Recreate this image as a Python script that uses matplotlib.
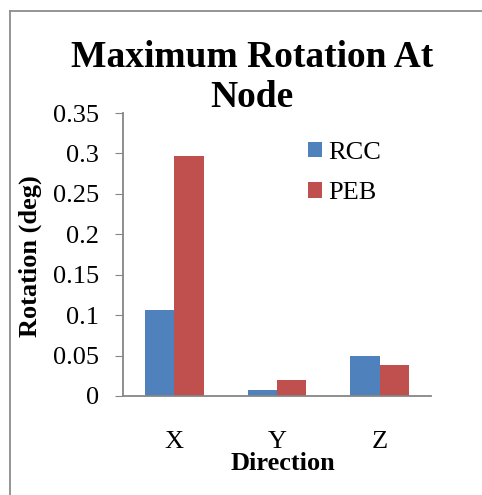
import numpy as np
import matplotlib.pyplot as plt
from matplotlib.lines import Line2D

# values
directions = ['X', 'Y', 'Z']
rcc = [0.106, 0.008, 0.050]
peb = [0.297, 0.020, 0.038]

plt.rcParams['font.family'] = 'Liberation Serif'

W, H = 482, 495
fig = plt.figure(figsize=(W / 100, H / 100), dpi=100)
ax = fig.add_axes([123 / W, 1 - 396 / H, (431 - 123) / W, (396 - 113) / H])

x = np.arange(len(directions))
bw = 0.286
ax.bar(x - bw / 2, rcc, bw, color='#4F81BD', label='RCC')
ax.bar(x + bw / 2, peb, bw, color='#C0504D', label='PEB')

ax.set_xlim(-0.5, 2.5)
ax.set_ylim(0, 0.35)
ax.set_yticks(np.arange(0, 0.351, 0.05))
ax.set_yticklabels(['0', '0.05', '0.1', '0.15', '0.2', '0.25', '0.3', '0.35'])
ax.set_xticks(x)
ax.set_xticklabels(directions)
ax.tick_params(axis='y', labelsize=19, length=5.5, color='#868686', pad=12)
ax.tick_params(axis='x', labelsize=19, length=0, pad=25)

for s in ['top', 'right']:
    ax.spines[s].set_visible(False)
for s in ['left', 'bottom']:
    ax.spines[s].set_color('#868686')
    ax.spines[s].set_linewidth(1.3)

ax.legend(loc='upper left', bbox_to_anchor=(297 / W, 1 - 131 / H),
          bbox_transform=fig.transFigure, frameon=False, fontsize=19,
          handlelength=0.55, handleheight=0.55, handletextpad=0.25,
          labelspacing=0.68, borderaxespad=0)

# title on two lines
fig.text(252 / W, 1 - 67 / H, 'Maximum Rotation At', ha='center', va='baseline',
         fontsize=27, fontweight='bold')
fig.text(252 / W, 1 - 107 / H, 'Node', ha='center', va='baseline',
         fontsize=27, fontweight='bold')

fig.text(30 / W, 1 - 256 / H, 'Rotation (deg)', rotation=90, ha='center',
         va='center', fontsize=19, fontweight='bold')
fig.text(283 / W, 1 - 463 / H, 'Direction', ha='center', va='center',
         fontsize=19, fontweight='bold')

# chart area border (top and left visible)
fig.add_artist(Line2D([10 / W, 1], [1 - 11 / H, 1 - 11 / H], color='#8C8C8C',
                      lw=1.3, transform=fig.transFigure))
fig.add_artist(Line2D([10 / W, 10 / W], [0, 1 - 11 / H], color='#8C8C8C',
                      lw=1.3, transform=fig.transFigure))

fig.savefig('out.png', dpi=100)
